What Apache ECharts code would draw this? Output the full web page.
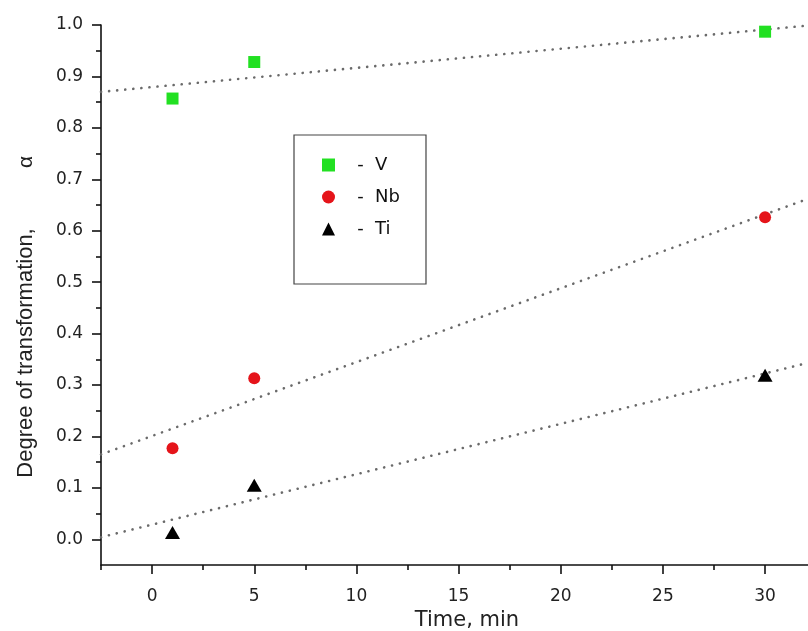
<!DOCTYPE html>
<html>
<head>
<meta charset="utf-8">
<script src="https://cdn.jsdelivr.net/npm/echarts@6/dist/echarts.min.js"></script>
<style>
html,body{margin:0;padding:0;background:#fff;}
#chart{width:808px;height:631px;}
</style>
</head>
<body>
<div id="chart"></div>
<script>
// ---- data ----
const seriesNames = ['V', 'Nb', 'Ti'];
const timeMin = [1, 5, 30];
const alphaV = [0.857, 0.928, 0.987];
const alphaNb = [0.177, 0.313, 0.626];
const alphaTi = [0.013, 0.105, 0.319];
// dotted trend lines, end points
const fitX = [-2.5, 32.1];
const fitV = [0.870, 0.999];
const fitNb = [0.165, 0.662];
const fitTi = [0.004, 0.343];
// tick values
const xMajorTicks = [0, 5, 10, 15, 20, 25, 30];
const xMinorTicks = [-2.5, 2.5, 7.5, 12.5, 17.5, 22.5, 27.5];
const yMajorTicks = [0, 0.1, 0.2, 0.3, 0.4, 0.5, 0.6, 0.7, 0.8, 0.9, 1.0];
const yMinorTicks = [0.05, 0.15, 0.25, 0.35, 0.45, 0.55, 0.65, 0.75, 0.85, 0.95];
const xTitle = 'Time, min';
const yTitle = 'Degree of transformation,';
const yTitleSymbol = 'α';

const FONT = '"Liberation Sans", Arial, sans-serif';
const WIDE = '"DejaVu Sans", sans-serif';
const pairs = (xs, ys) => xs.map((x, i) => [x, ys[i]]);

const chart = echarts.init(document.getElementById('chart'), null, {renderer: 'canvas'});

const axisBase = {
  type: 'value', min: -2.5, max: 32.1, splitLine: {show: false}
};
const dotted = {color: '#6a6a6a', width: 2.6, type: [0.1, 8], cap: 'round'};

const option = {
  backgroundColor: '#ffffff',
  animation: false,
  grid: {left: 101, top: 25, right: 0, bottom: 66, containLabel: false},
  xAxis: [
    Object.assign({}, axisBase, {
      position: 'bottom',
      axisLine: {show: true, onZero: false, lineStyle: {color: '#111', width: 1.6}},
      axisTick: {show: true, inside: false, length: 9, customValues: xMajorTicks, lineStyle: {color: '#111', width: 1.6}},
      axisLabel: {show: true, customValues: xMajorTicks, margin: 23, color: '#222', fontSize: 17, fontFamily: WIDE}
    }),
    Object.assign({}, axisBase, {
      position: 'bottom',
      axisLine: {show: false, onZero: false},
      axisTick: {show: true, inside: false, length: 5, customValues: xMinorTicks, lineStyle: {color: '#111', width: 1.6}},
      axisLabel: {show: false}
    })
  ],
  yAxis: [
    {
      type: 'value', min: -0.05, max: 1.0, position: 'left', splitLine: {show: false},
      axisLine: {show: true, onZero: false, lineStyle: {color: '#111', width: 1.6}},
      axisTick: {show: true, inside: false, length: 9, customValues: yMajorTicks, lineStyle: {color: '#111', width: 1.6}},
      axisLabel: {show: true, customValues: yMajorTicks, margin: 18, color: '#222', fontSize: 17, fontFamily: WIDE,
        formatter: v => v.toFixed(1)}
    },
    {
      type: 'value', min: -0.05, max: 1.0, position: 'left', splitLine: {show: false},
      axisLine: {show: false, onZero: false},
      axisTick: {show: true, inside: false, length: 5, customValues: yMinorTicks, lineStyle: {color: '#111', width: 1.6}},
      axisLabel: {show: false}
    }
  ],
  legend: {
    data: seriesNames,
    orient: 'vertical',
    left: 294, top: 135,
    padding: [21, 26, 46, 28],
    itemGap: 14,
    itemWidth: 13, itemHeight: 13,
    borderColor: '#444', borderWidth: 1.2, borderRadius: 0,
    backgroundColor: '#fff',
    formatter: name => '   -  ' + name,
    textStyle: {fontSize: 18, color: '#111', fontFamily: WIDE}
  },
  series: [
    {name: 'fitV', type: 'line', data: pairs(fitX, fitV), symbol: 'none', silent: true, z: 1, lineStyle: dotted},
    {name: 'fitNb', type: 'line', data: pairs(fitX, fitNb), symbol: 'none', silent: true, z: 1, lineStyle: dotted},
    {name: 'fitTi', type: 'line', data: pairs(fitX, fitTi), symbol: 'none', silent: true, z: 1, lineStyle: dotted},
    {name: 'V', type: 'scatter', data: pairs(timeMin, alphaV), symbol: 'rect', symbolSize: 12, z: 3,
      itemStyle: {color: '#22e022', opacity: 1}},
    {name: 'Nb', type: 'scatter', data: pairs(timeMin, alphaNb), symbol: 'circle', symbolSize: 12, z: 3,
      itemStyle: {color: '#e5141a', opacity: 1}},
    {name: 'Ti', type: 'scatter', data: pairs(timeMin, alphaTi), symbol: 'triangle', symbolSize: [15, 13], z: 3,
      itemStyle: {color: '#000', opacity: 1}}
  ],
  graphic: [
    {type: 'text', x: 467, y: 621, style: {text: xTitle, font: '21px ' + WIDE, fill: '#222', textAlign: 'center', textVerticalAlign: 'middle'}},
    {type: 'text', x: 26, y: 353, rotation: Math.PI / 2, style: {text: yTitle, font: '22px ' + FONT, fill: '#222', textAlign: 'center', textVerticalAlign: 'middle'}},
    {type: 'text', x: 26, y: 162, rotation: Math.PI / 2, style: {text: yTitleSymbol, font: '21px ' + FONT, fill: '#222', textAlign: 'center', textVerticalAlign: 'middle'}}
  ]
};
chart.setOption(option);
</script>
</body>
</html>
